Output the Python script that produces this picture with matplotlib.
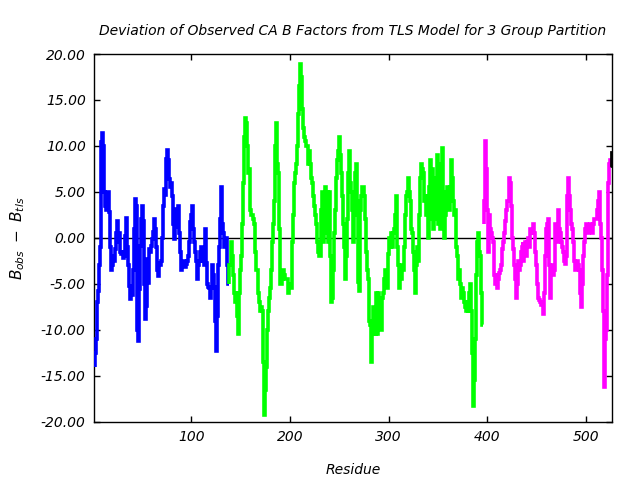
import numpy as np
import matplotlib
matplotlib.use("Agg")
import matplotlib.pyplot as plt
from matplotlib.ticker import FormatStrFormatter

# B_obs - B_tls per residue, one list per TLS group
group1_start = 2
group1_vals = [
    -14.1, -12.5, -11.0, -7.0, -5.8, -3.0, -1.0, 10.4, 11.4, 10.0,
    5.0, 3.5, 3.0, 4.0, 5.0, 2.8, -1.0, -3.5, -3.0, -2.0,
    -2.5, -1.2, 0.5, 1.8, -0.5, 0.5, -1.5, -1.8, -1.5, -2.2,
    -2.0, 0.2, 2.2, -1.0, -3.0, -5.2, -6.7, -5.5, -6.2, -3.5,
    1.0, 4.2, 3.5, -10.0, -11.2, -10.3, -5.6, -0.9, 2.0, 3.5,
    1.8, -5.0, -8.8, -7.4, -2.3, -4.9, -1.2, -1.5, -0.9, -0.1,
    0.6, 2.0, 1.0, -1.0, -3.5, -4.1, -2.7, -3.0, -2.5, 0.0,
    3.5, 5.3, 4.7, 8.6, 9.6, 8.5, 6.4, 5.5, 6.0, 4.5,
    1.5, -0.1, 1.7, 3.1, 1.2, 3.5, 0.5, -1.5, -3.5, -3.0,
    -3.0, -2.5, -3.2, -2.8, -2.5, -2.0, -0.5, 1.7, 2.5, 3.5,
    1.0, -0.5, -1.5, -2.5, -4.5, -3.0, -2.5, -1.5, -1.0, -1.8,
    -2.5, -3.0, 1.0, -2.7, -5.0, -5.3, -5.5, -6.5, -5.5, -3.0,
    -4.0, -5.3, -7.0, -9.0, -12.3, -8.5, -3.0, -1.0, 2.0, 5.5,
    1.5, 0.5, -1.0, -0.5, 0.0, -3.0, -5.0,
]

group2_start = 138
group2_vals = [
    -5.0, -3.0, -3.0, -0.5, -2.0, -4.0, -6.0, -7.0, -6.0, -8.5,
    -10.5, -6.0, -3.5, -2.0, 1.5, 6.0, 11.0, 13.0, 12.5, 10.0,
    7.0, 7.5, 3.0, 2.5, 2.5, 2.0, 1.5, -1.5, -3.5, -3.5,
    -6.0, -7.0, -8.0, -7.5, -8.0, -13.5, -19.3, -16.5, -14.0, -10.0,
    -8.0, -6.5, -5.5, -3.5, -0.5, 1.5, 4.0, 10.0, 12.5, 8.0,
    7.0, 1.0, -5.0, -5.0, -4.5, -3.5, -4.0, -4.5, -4.5, -4.5,
    -6.0, -5.0, -5.0, -5.5, -3.5, -0.5, 2.5, 6.0, 7.0, 8.0,
    10.0, 13.5, 16.5, 18.9, 17.5, 14.0, 12.0, 11.0, 10.5, 10.0,
    10.0, 8.0, 9.5, 8.0, 6.5, 6.0, 4.5, 3.5, 2.5, 1.5,
    -0.5, -1.5, -2.0, -2.0, 3.0, 5.0, -0.5, 4.5, 5.5, 0.5,
    5.0, -0.5, 5.0, -2.0, -7.0, -6.5, -3.5, 0.5, 3.0, 6.5,
    8.5, 9.5, 11.0, 9.0, 7.0, 4.5, 1.5, -1.0, -4.5, -2.0,
    2.0, 7.0, 9.5, 6.0, 5.0, 3.0, -0.5, 2.5, 7.0, 8.0,
    4.0, -4.8, -5.8, 3.0, 4.5, 5.5, 5.5, 4.5, 2.0, -1.5,
    -3.5, -4.5, -7.0, -9.0, -9.5, -13.5, -10.5, -7.5, -8.5, -10.5,
    -6.0, -10.5, -6.0, -8.0, -7.0, -10.0, -6.5, -6.0, -4.5, -3.5,
    -4.0, -5.5, -1.8, 0.0, -1.0, 0.5, -1.0, 0.5, 1.0, 2.5,
    4.5, -1.0, -3.0, -5.5, -4.0, -4.5, -3.0, -3.5, -1.0, 2.5,
    4.5, 5.0, 6.5, 5.0, 4.0, 1.0, 0.5, -1.5, -3.5, -6.0,
    -3.0, -1.0, -2.5, 2.5, 6.5, 8.0, 7.5, 7.0, 4.0, 4.5,
    2.5, 4.5, 0.0, 5.5, 8.5, 2.0, 7.5, 1.0, 6.5, 2.0,
    6.0, 9.0, 1.5, 7.5, 1.0, 8.0, 9.8, 5.0, 0.0, 2.5,
    4.5, 3.5, 5.5, 4.0, 3.0, 5.5, 8.5, 6.5, 4.0, 2.5,
    3.0, -1.0, -2.0, -4.5, -3.5, -5.0, -6.5, -5.5, -6.0, -7.0,
    -7.5, -8.0, -7.0, -8.0, -6.0, -5.0, -8.0, -12.5, -18.3, -15.5,
    -11.0, -4.0, -0.5, 0.5, -1.5, -2.0, -6.0, -9.5,
]

group3_start = 396
group3_vals = [
    1.5, 4.0, 10.5, 7.5, 3.0, -1.5, 2.5, 1.0, 0.5, 0.0,
    -0.5, -4.0, -5.0, -4.0, -5.5, -4.5, -3.8, -3.5, -3.0, -1.2,
    -0.5, 0.5, 1.8, 3.0, 4.0, 4.0, 6.5, 6.0, 3.5, 0.0,
    -1.2, -3.0, -4.5, -6.5, -5.0, -2.5, -3.5, -3.0, -1.5, -1.0,
    -0.5, -2.5, -1.0, -0.5, -2.0, -0.5, 0.0, -1.0, 1.0, 0.5,
    0.8, 1.5, 0.5, -1.5, -3.0, -5.0, -6.5, -6.8, -7.0, -7.3,
    -7.3, -8.3, -6.0, -2.0, 1.0, 1.5, 2.0, -3.0, -6.5, -3.5,
    -3.0, -4.0, -3.5, 1.5, 1.0, -0.5, 3.0, 1.0, 0.5, -0.5,
    -1.0, -1.5, -2.5, -2.8, -2.0, 4.5, 6.5, 4.5, 3.0, 1.5,
    1.0, -0.5, -2.5, -3.5, -3.5, -2.5, -3.0, -3.5, -6.0, -7.5,
    -5.0, -2.0, -0.5, 1.0, 1.5, 1.0, 0.5, 1.0, 1.5, 1.2,
    0.5, 1.5, 2.0, 2.0, 2.0, 3.0, 4.0, 5.0, 4.0, 1.5,
    0.0, -3.5, -8.0, -16.2, -11.0, -10.0, -4.0, 6.0, 8.0, 8.5,
]

group4_res = [525, 526]
group4_vals = [9.3, 7.8]

groups = [
    (group1_start, group1_vals, "#0000ff"),
    (group2_start, group2_vals, "#00ff00"),
    (group3_start, group3_vals, "#ff00ff"),
]

fig = plt.figure(figsize=(6.4, 4.8), dpi=100)
ax = fig.add_axes([0.147, 0.1215, 0.809, 0.766])

for start, vals, col in groups:
    res = np.arange(start, start + len(vals))
    ax.plot(res, vals, color=col, lw=2.6, drawstyle="steps-mid",
            solid_joinstyle="miter", solid_capstyle="butt", zorder=3)
ax.plot(group4_res, group4_vals, color="black", lw=2.0,
        drawstyle="steps-mid", zorder=3)

ax.axhline(0, color="black", lw=1.0, zorder=2)

ax.set_xlim(1.5, 526)
ax.set_ylim(-20, 20)
ax.set_xticks([100, 200, 300, 400, 500])
ax.set_yticks(np.arange(-20, 21, 5))
ax.yaxis.set_major_formatter(FormatStrFormatter("%.2f"))
ax.tick_params(direction="in", length=4, width=1, top=True, right=True,
               labelsize=10, pad=6)
for lab in ax.get_xticklabels() + ax.get_yticklabels():
    lab.set_fontstyle("italic")
for sp in ax.spines.values():
    sp.set_linewidth(1.0)

ax.set_title("Deviation of Observed CA B Factors from TLS Model for 3 Group Partition",
             fontsize=10, style="italic", pad=14)
ax.set_xlabel("Residue", fontsize=10, style="italic", labelpad=14)
ax.set_ylabel(r"$B_{obs}\ -\ B_{tls}$", fontsize=11, labelpad=10)

fig.savefig("out.png", dpi=100)
